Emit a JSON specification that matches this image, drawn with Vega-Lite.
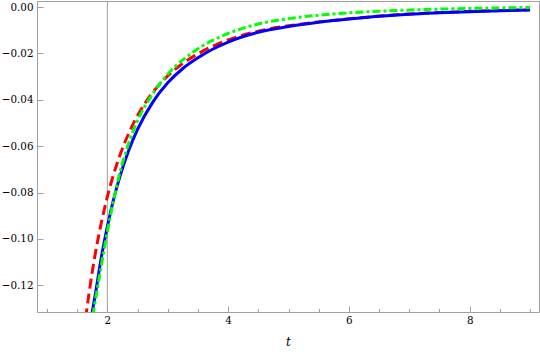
{
  "$schema": "https://vega.github.io/schema/vega-lite/v6.json",
  "width": 502,
  "height": 311,
  "autosize": "none",
  "padding": {"left": 37, "top": 1, "right": 1, "bottom": 46},
  "background": "white",
  "config": {
    "view": {"stroke": "#a0a0a0", "strokeWidth": 1},
    "axisY": {
      "title": null,
      "values": [-0.13, -0.125, -0.12, -0.115, -0.11, -0.105, -0.1, -0.095, -0.09, -0.085, -0.08, -0.075, -0.07, -0.065, -0.06, -0.055, -0.05, -0.045, -0.04, -0.035, -0.03, -0.025, -0.02, -0.015, -0.01, -0.005, 0],
      "labelExpr": "abs(round(datum.value * 1000)) % 20 === 0 ? format(datum.value, '.2f') : ''",
      "tickColor": "#a0a0a0",
      "tickWidth": 1,
      "domain": false,
      "grid": false,
      "labelFont": "DejaVu Serif Condensed",
      "labelFontSize": 11.5,
      "labelColor": "#000000",
      "labelPadding": 10,
      "labelFlush": false,
      "labelOverlap": false
    }
  },
  "datasets": {
    "curves": [
      {"s": "red", "t": 1.64, "v": -0.1343},
      {"s": "red", "t": 1.70, "v": -0.1228},
      {"s": "red", "t": 1.80, "v": -0.1064},
      {"s": "red", "t": 1.90, "v": -0.0930},
      {"s": "red", "t": 2.00, "v": -0.0818},
      {"s": "red", "t": 2.10, "v": -0.0724},
      {"s": "red", "t": 2.20, "v": -0.0645},
      {"s": "red", "t": 2.35, "v": -0.0547},
      {"s": "red", "t": 2.50, "v": -0.0468},
      {"s": "red", "t": 2.75, "v": -0.0369},
      {"s": "red", "t": 3.00, "v": -0.0297},
      {"s": "red", "t": 3.25, "v": -0.0243},
      {"s": "red", "t": 3.50, "v": -0.0202},
      {"s": "red", "t": 3.75, "v": -0.0168},
      {"s": "red", "t": 4.00, "v": -0.0142},
      {"s": "red", "t": 4.50, "v": -0.0104},
      {"s": "red", "t": 5.00, "v": -0.0081},
      {"s": "red", "t": 5.50, "v": -0.0064},
      {"s": "red", "t": 6.00, "v": -0.0051},
      {"s": "red", "t": 6.50, "v": -0.0039},
      {"s": "red", "t": 7.00, "v": -0.0030},
      {"s": "red", "t": 7.50, "v": -0.0024},
      {"s": "red", "t": 8.00, "v": -0.0019},
      {"s": "red", "t": 8.50, "v": -0.0015},
      {"s": "red", "t": 9.00, "v": -0.0012},
      {"s": "blue", "t": 1.74, "v": -0.1330},
      {"s": "blue", "t": 1.80, "v": -0.1240},
      {"s": "blue", "t": 1.90, "v": -0.1080},
      {"s": "blue", "t": 2.00, "v": -0.0947},
      {"s": "blue", "t": 2.10, "v": -0.0833},
      {"s": "blue", "t": 2.20, "v": -0.0738},
      {"s": "blue", "t": 2.35, "v": -0.0621},
      {"s": "blue", "t": 2.50, "v": -0.0528},
      {"s": "blue", "t": 2.75, "v": -0.0411},
      {"s": "blue", "t": 3.00, "v": -0.0327},
      {"s": "blue", "t": 3.25, "v": -0.0265},
      {"s": "blue", "t": 3.50, "v": -0.0219},
      {"s": "blue", "t": 3.75, "v": -0.0181},
      {"s": "blue", "t": 4.00, "v": -0.0151},
      {"s": "blue", "t": 4.50, "v": -0.0109},
      {"s": "blue", "t": 5.00, "v": -0.0084},
      {"s": "blue", "t": 5.50, "v": -0.0066},
      {"s": "blue", "t": 6.00, "v": -0.0052},
      {"s": "blue", "t": 6.50, "v": -0.0040},
      {"s": "blue", "t": 7.00, "v": -0.0031},
      {"s": "blue", "t": 7.50, "v": -0.0025},
      {"s": "blue", "t": 8.00, "v": -0.0020},
      {"s": "blue", "t": 8.50, "v": -0.0016},
      {"s": "blue", "t": 9.00, "v": -0.0013},
      {"s": "green", "t": 1.76, "v": -0.1330},
      {"s": "green", "t": 1.85, "v": -0.1190},
      {"s": "green", "t": 1.90, "v": -0.1115},
      {"s": "green", "t": 2.00, "v": -0.0968},
      {"s": "green", "t": 2.10, "v": -0.0838},
      {"s": "green", "t": 2.20, "v": -0.0722},
      {"s": "green", "t": 2.35, "v": -0.0590},
      {"s": "green", "t": 2.50, "v": -0.0490},
      {"s": "green", "t": 2.75, "v": -0.0375},
      {"s": "green", "t": 3.00, "v": -0.0290},
      {"s": "green", "t": 3.25, "v": -0.0228},
      {"s": "green", "t": 3.50, "v": -0.0180},
      {"s": "green", "t": 3.75, "v": -0.0143},
      {"s": "green", "t": 4.00, "v": -0.0114},
      {"s": "green", "t": 4.50, "v": -0.0073},
      {"s": "green", "t": 5.00, "v": -0.0050},
      {"s": "green", "t": 5.50, "v": -0.0035},
      {"s": "green", "t": 6.00, "v": -0.0025},
      {"s": "green", "t": 6.50, "v": -0.0018},
      {"s": "green", "t": 7.00, "v": -0.0013},
      {"s": "green", "t": 7.50, "v": -0.0009},
      {"s": "green", "t": 8.00, "v": -0.0006},
      {"s": "green", "t": 8.50, "v": -0.0004},
      {"s": "green", "t": 9.00, "v": -0.0002}
    ],
    "axisline": [{"t": 2}]
  },
  "encoding": {
    "x": {
      "field": "t",
      "type": "quantitative",
      "scale": {"domain": [0.835, 9.148], "nice": false, "zero": false},
      "axis": {
        "title": "t",
        "titleFont": "DejaVu Serif",
        "titleFontStyle": "italic",
        "titleFontWeight": "normal",
        "titleFontSize": 12,
        "titleColor": "#000000",
        "titlePadding": 8,
        "values": [1, 1.5, 2, 2.5, 3, 3.5, 4, 4.5, 5, 5.5, 6, 6.5, 7, 7.5, 8, 8.5, 9],
        "labelExpr": "datum.value % 2 === 0 ? format(datum.value, 'd') : ''",
        "tickSize": {"condition": {"test": "datum.value % 2 === 0", "value": -6}, "value": -3.5},
        "tickColor": "#a0a0a0",
        "tickWidth": 1,
        "domain": false,
        "grid": false,
        "labelFont": "DejaVu Serif Condensed",
        "labelFontSize": 11.5,
        "labelColor": "#000000",
        "labelPadding": 8,
        "labelFlush": false,
        "labelOverlap": false
      }
    }
  },
  "layer": [
    {
      "data": {"name": "axisline"},
      "mark": {"type": "rule", "color": "#a0a0a0", "strokeWidth": 1},
      "encoding": {}
    },
    {
      "data": {"name": "curves"},
      "transform": [{"filter": "datum.s === 'red'"}],
      "mark": {"type": "line", "color": "#ff0000", "strokeWidth": 3, "strokeDash": [10, 5], "interpolate": "monotone", "clip": true},
      "encoding": {
        "y": {
          "field": "v",
          "type": "quantitative",
          "scale": {"domain": [-0.1315, 0.0026], "nice": false, "zero": false},
          "axis": {"tickSize": {"condition": {"test": "abs(round(datum.value * 1000)) % 20 === 0", "value": -6}, "value": -3.5}}
        }
      }
    },
    {
      "data": {"name": "curves"},
      "transform": [{"filter": "datum.s === 'blue'"}],
      "mark": {"type": "line", "color": "#0000ff", "strokeWidth": 3, "interpolate": "monotone", "clip": true},
      "encoding": {
        "y": {
          "field": "v",
          "type": "quantitative",
          "axis": {"tickSize": {"condition": {"test": "abs(round(datum.value * 1000)) % 20 === 0", "value": -6}, "value": -3.5}}
        }
      }
    },
    {
      "data": {"name": "curves"},
      "transform": [{"filter": "datum.s === 'green'"}],
      "mark": {"type": "line", "color": "#00ff00", "strokeWidth": 3, "strokeDash": [8, 3, 3, 3], "interpolate": "monotone", "clip": true},
      "encoding": {
        "y": {
          "field": "v",
          "type": "quantitative",
          "axis": {"tickSize": {"condition": {"test": "abs(round(datum.value * 1000)) % 20 === 0", "value": -6}, "value": -3.5}}
        }
      }
    }
  ]
}
